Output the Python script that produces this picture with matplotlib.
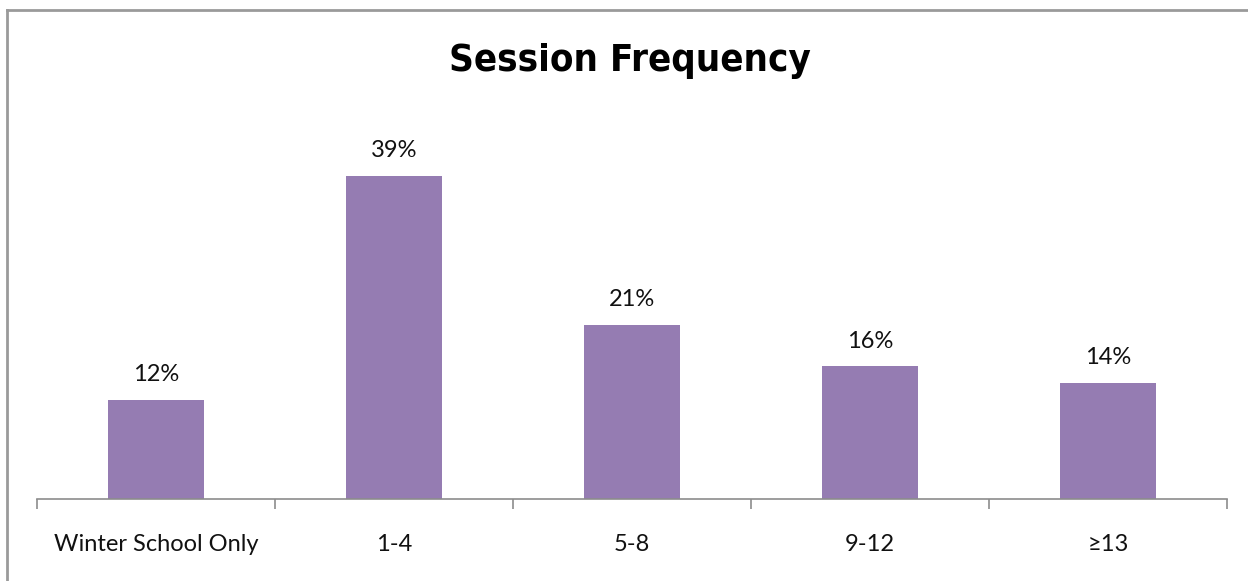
import matplotlib
matplotlib.use("Agg")
import matplotlib.pyplot as plt
from matplotlib.lines import Line2D
from matplotlib import font_manager

categories = ["Winter School Only", "1-4", "5-8", "9-12", "≥13"]
shares = [12, 39, 21, 16, 14]
value_labels = ["12%", "39%", "21%", "16%", "14%"]

W, H = 1248, 581
fig = plt.figure(figsize=(W / 100, H / 100), dpi=100)
fig.patch.set_facecolor("white")

# chart frame (left and top edges visible)
border = "#9a9a9a"
fig.add_artist(Line2D([7 / W, 7 / W], [0, 1 - 10 / H], transform=fig.transFigure,
                      color=border, lw=2.0))
fig.add_artist(Line2D([7 / W, 1], [1 - 10 / H, 1 - 10 / H], transform=fig.transFigure,
                      color=border, lw=2.0))

left, right = 37 / W, 1227 / W
bottom = (H - 499) / H
top = (H - 126) / H
ax = fig.add_axes([left, bottom, right - left, top - bottom])

x = list(range(len(categories)))
ax.bar(x, shares, width=0.4, color="#957cb2", zorder=2)
ax.set_xlim(-0.5, len(categories) - 0.5)
ax.set_ylim(0, 45)

label_font = ["Lato", "DejaVu Sans"]
for xi, v, lab in zip(x, shares, value_labels):
    ax.annotate(lab, (xi, v), xytext=(0, 18), textcoords="offset points",
                ha="center", va="center", fontsize=17, family=label_font,
                color="#111111")

for s in ["left", "right", "top"]:
    ax.spines[s].set_visible(False)
ax.spines["bottom"].set_color("#8c8c8c")
ax.spines["bottom"].set_linewidth(1.2)
ax.set_yticks([])

# boundary ticks between categories
ax.set_xticks([i - 0.5 for i in range(len(categories) + 1)])
ax.set_xticklabels([])
ax.tick_params(axis="x", length=7, width=1.2, color="#8c8c8c", direction="out")
ax.set_xticks(x, minor=True)
ax.set_xticklabels(categories, minor=True, fontsize=17, family=label_font,
                   color="#111111")
ax.tick_params(axis="x", which="minor", length=0, pad=25)

title_fp = font_manager.FontProperties(family="DejaVu Sans", weight="bold",
                                       stretch="condensed", size=27.5)
fig.text(630 / W, 1 - 61 / H, "Session Frequency", ha="center", va="center",
         fontproperties=title_fp, color="black")

fig.savefig("out.png", dpi=100, facecolor="white")
